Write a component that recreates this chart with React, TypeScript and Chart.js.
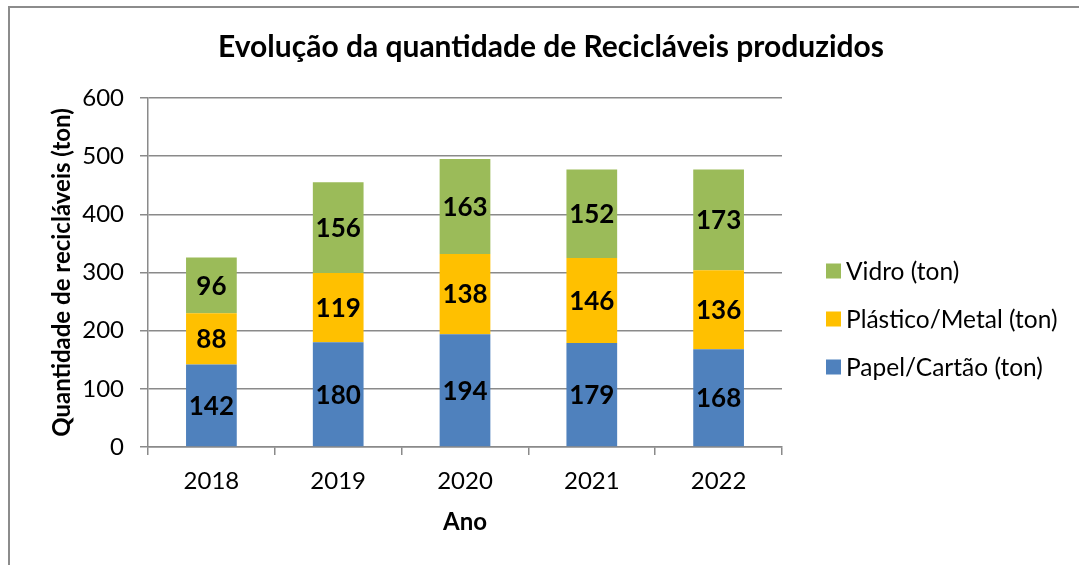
import React, { useEffect, useRef } from "react";
import { Chart, registerables } from "chart.js";

Chart.register(...registerables);

const years = ["2018", "2019", "2020", "2021", "2022"];
const papelCartao = [142, 180, 194, 179, 168];
const plasticoMetal = [88, 119, 138, 146, 136];
const vidro = [96, 156, 163, 152, 173];
const seriesLabels = ["Papel/Cartão (ton)", "Plástico/Metal (ton)", "Vidro (ton)"];
const seriesColors = ["#4F81BD", "#FFC000", "#9BBB59"];
const yTicks = [0, 100, 200, 300, 400, 500, 600];

const FONT = "Lato, 'Open Sans', sans-serif";
const GRID = "#8a8a8a";

const dataLabelsPlugin = {
  id: "dataLabels",
  afterDatasetsDraw(chart: any) {
    const ctx = chart.ctx;
    ctx.save();
    ctx.font = `bold 26px ${FONT}`;
    ctx.fillStyle = "#000";
    ctx.textAlign = "center";
    ctx.textBaseline = "middle";
    chart.data.datasets.forEach((ds: any, di: number) => {
      const meta = chart.getDatasetMeta(di);
      meta.data.forEach((el: any, i: number) => {
        const y = (el.y + el.base) / 2;
        ctx.fillText(String(ds.data[i]), el.x, y + 1);
      });
    });
    ctx.restore();
  },
};

const legendPlugin = {
  id: "customLegend",
  afterDraw(chart: any) {
    const ctx = chart.ctx;
    const area = chart.chartArea;
    const x = area.right + 44;
    const centerY = 319;
    const spacing = 48;
    const n = chart.data.datasets.length;
    ctx.save();
    ctx.font = `24.5px ${FONT}`;
    ctx.textBaseline = "middle";
    ctx.textAlign = "left";
    for (let k = 0; k < n; k++) {
      const di = n - 1 - k;
      const ds = chart.data.datasets[di];
      const cy = centerY + (k - (n - 1) / 2) * spacing;
      ctx.fillStyle = ds.backgroundColor;
      ctx.fillRect(x, cy - 7.5, 15, 15);
      ctx.fillStyle = "#000";
      ctx.fillText(ds.label, x + 20, cy + 1);
    }
    ctx.restore();
  },
};

export default function App() {
  const canvasRef = useRef<HTMLCanvasElement | null>(null);

  useEffect(() => {
    if (!canvasRef.current) return;
    const chart = new Chart(canvasRef.current, {
      type: "bar",
      data: {
        labels: years,
        datasets: [
          { label: seriesLabels[0], data: papelCartao, backgroundColor: seriesColors[0] },
          { label: seriesLabels[1], data: plasticoMetal, backgroundColor: seriesColors[1] },
          { label: seriesLabels[2], data: vidro, backgroundColor: seriesColors[2] },
        ],
      },
      options: {
        animation: false,
        responsive: false,
        devicePixelRatio: 1,
        layout: { padding: { left: 23, right: 0, top: 0, bottom: 28.6 } },
        datasets: { bar: { barPercentage: 0.4, categoryPercentage: 1 } },
        plugins: {
          legend: { display: false },
          tooltip: { enabled: false },
          title: {
            display: true,
            text: "Evolução da quantidade de Recicláveis produzidos",
            color: "#000",
            font: { family: FONT, size: 30, weight: "bold" },
            padding: { top: 29, bottom: 33 },
          },
        },
        scales: {
          x: {
            stacked: true,
            offset: true,
            grid: {
              offset: true,
              drawOnChartArea: false,
              drawTicks: true,
              tickLength: 8,
              color: GRID,
              lineWidth: 1.5,
            },
            border: { display: true, color: GRID, width: 1.5 },
            ticks: { color: "#000", font: { family: FONT, size: 24 }, padding: 11.6 },
            title: {
              display: true,
              text: "Ano",
              color: "#000",
              font: { family: FONT, size: 24, weight: "bold" },
              padding: { top: 0, bottom: 0 },
            },
            afterFit(s: any) {
              s.height = 89.4;
            },
          },
          y: {
            stacked: true,
            min: 0,
            max: 600,
            afterBuildTicks(s: any) {
              s.ticks = yTicks.map((v) => ({ value: v }));
            },
            grid: { color: GRID, lineWidth: 1.5, tickLength: 8, drawTicks: true },
            border: { display: true, color: GRID, width: 1.5 },
            ticks: { color: "#000", font: { family: FONT, size: 24 }, padding: 16 },
            title: {
              display: true,
              text: "Quantidade de recicláveis (ton)",
              color: "#000",
              font: { family: FONT, size: 24, weight: "bold" },
              padding: { top: 24.6, bottom: 0 },
            },
            afterFit(s: any) {
              s.width = 125;
            },
          },
          legendSpace: {
            type: "linear",
            position: "right",
            display: true,
            grid: { display: false },
            border: { display: false },
            ticks: { display: false },
            afterFit(s: any) {
              s.width = 297;
            },
          },
        },
      },
      plugins: [dataLabelsPlugin, legendPlugin],
    } as any);
    return () => chart.destroy();
  }, []);

  return (
    <div
      style={{
        position: "fixed",
        left: 0,
        top: 0,
        width: 1079,
        height: 565,
        overflow: "hidden",
        background: "#fff",
      }}
    >
      <div
        style={{
          position: "absolute",
          left: 8,
          top: 6,
          width: 1200,
          height: 700,
          border: "2px solid #8c8c8c",
        }}
      />
      <canvas
        ref={canvasRef}
        width={1079}
        height={565}
        style={{ position: "absolute", left: 0, top: 0, width: 1079, height: 565 }}
      />
    </div>
  );
}
